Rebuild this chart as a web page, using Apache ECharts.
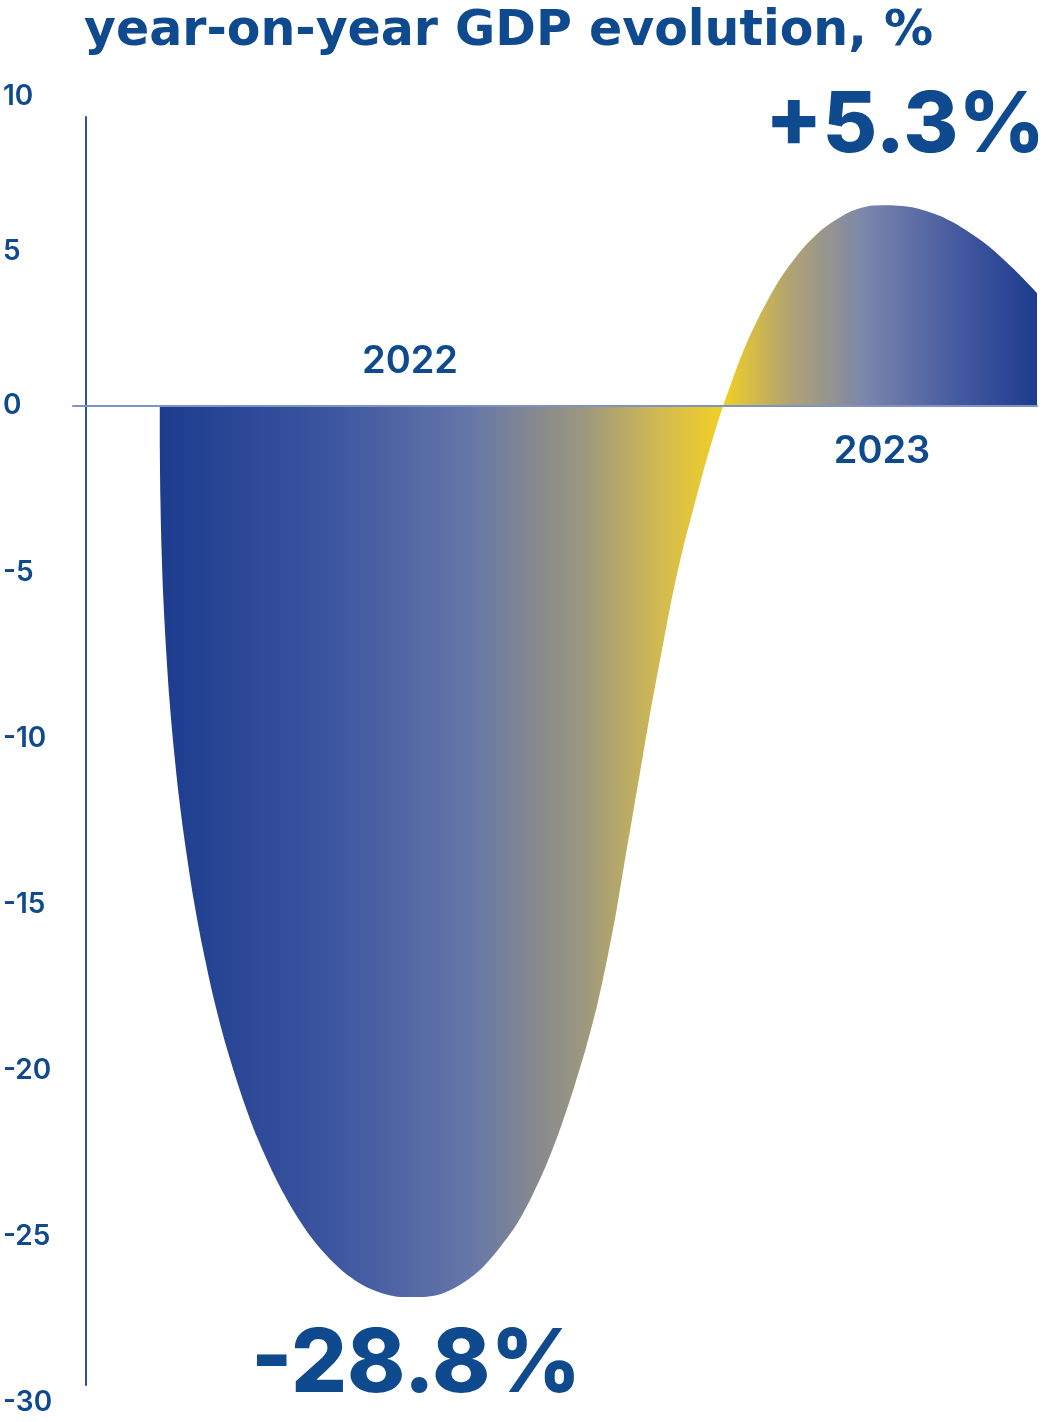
<!DOCTYPE html>
<html>
<head>
<meta charset="utf-8">
<script src="https://cdn.jsdelivr.net/npm/echarts@6/dist/echarts.min.js"></script>
<style>
  html, body { margin: 0; padding: 0; background: #ffffff; }
  #chart { width: 1047px; height: 1422px; }
</style>
</head>
<body>
<div id="chart"></div>
<script>
// ---------- data ----------
const chartTitle = 'year-on-year GDP evolution, %';
const yearLabels = ['2022', '2023'];
const headlineValues = ['-28.8%', '+5.3%'];

// y axis tick labels (two scales: above and below zero)
const upperTicks = [0, 5, 10];
const lowerTicks = [-30, -25, -20, -15, -10, -5, 0];

// 2022 trough (time position 0..100 across the plot, value in %)
const dip2022X = [9.00, 9.01, 9.07, 9.19, 9.38, 9.66, 10.01, 10.47, 11.03, 11.72, 12.53, 13.50, 14.64, 16.01, 17.65, 19.22, 21.11, 22.82, 24.55, 26.26, 27.92, 29.99, 32.06, 33.61, 35.16,
                  36.71, 38.16, 40.12, 42.09, 44.05, 46.02, 47.67, 49.22, 50.67, 52.02, 53.26, 54.40, 55.43, 56.36, 57.29, 58.22, 59.15, 60.08, 61.12, 62.15, 63.29, 64.32, 65.36, 66.39, 67.43];
const dip2022Y = [0, -1.32, -2.83, -4.33, -5.84, -7.34, -8.85, -10.35, -11.86, -13.36, -14.87, -16.37, -17.88, -19.38, -20.88, -22.09, -23.29, -24.19, -24.95, -25.55, -26.02, -26.44, -26.70, -26.80, -26.81,
                  -26.80, -26.72, -26.45, -26.03, -25.40, -24.62, -23.74, -22.75, -21.64, -20.46, -19.26, -18.00, -16.61, -15.20, -13.60, -12.04, -10.47, -8.91, -7.31, -5.75, -4.27, -3.13, -1.99, -0.96, 0];

// 2023 recovery
const rise2023X = [67.43, 68.36, 69.29, 70.22, 71.15, 72.08, 73.22, 74.35, 75.49, 76.53, 77.77, 79.11, 80.35, 81.70, 83.04, 84.49,
                   85.94, 87.38, 88.73, 89.97, 91.42, 92.76, 94.52, 96.17, 98.03, 100.00];
const rise2023Y = [0, 0.81, 1.59, 2.27, 2.88, 3.43, 4.05, 4.56, 5.02, 5.37, 5.73, 6.02, 6.25, 6.41, 6.49, 6.50,
                   6.47, 6.41, 6.29, 6.15, 5.92, 5.66, 5.28, 4.85, 4.30, 3.66];

// ---------- styles ----------
const TEXT = '#0e4a8d';
const FONT = 'Inter';
const TITLE_FONT = 'DejaVu Sans';

const zip = (xs, ys) => xs.map((x, i) => [x, ys[i]]);

const chart = echarts.init(document.getElementById('chart'), null, { renderer: 'canvas' });

const hiddenX = (gi) => ({
  type: 'value', gridIndex: gi, min: 0, max: 100, show: false
});

const option = {
  backgroundColor: '#ffffff',
  animation: false,
  title: {
    text: chartTitle,
    left: 79, top: 3,
    textStyle: { color: TEXT, fontFamily: TITLE_FONT, fontWeight: 700, fontSize: 49 }
  },
  grid: [
    { left: 70, right: 10, top: 97, bottom: 1016 },   // above zero
    { left: 70, right: 10, top: 406, bottom: 19 },    // below zero
    { left: 86, right: 10, top: 117, bottom: 37 }     // vertical axis line
  ],
  xAxis: [
    hiddenX(0),
    {
      type: 'value', gridIndex: 1, min: 0, max: 100, position: 'top', z: 5,
      axisLine: { show: true, onZero: false, lineStyle: { color: '#7f92c4', width: 2 } },
      axisTick: { show: false }, axisLabel: { show: false }, splitLine: { show: false }
    },
    hiddenX(2)
  ],
  yAxis: [
    {
      type: 'value', gridIndex: 0, min: upperTicks[0], max: upperTicks[upperTicks.length - 1], interval: 5,
      axisLine: { show: false }, axisTick: { show: false }, splitLine: { show: false },
      axisLabel: {
        showMinLabel: false, align: 'left', margin: 70,
        color: TEXT, fontFamily: FONT, fontWeight: 600, fontSize: 28
      }
    },
    {
      type: 'value', gridIndex: 1, min: lowerTicks[0], max: lowerTicks[lowerTicks.length - 1], interval: 5,
      axisLine: { show: false }, axisTick: { show: false }, splitLine: { show: false },
      axisLabel: {
        align: 'left', margin: 70,
        color: TEXT, fontFamily: FONT, fontWeight: 600, fontSize: 28
      }
    },
    {
      type: 'value', gridIndex: 2, min: 0, max: 1, z: 5,
      axisLine: { show: true, lineStyle: { color: '#2f4f9b', width: 2 } },
      axisTick: { show: false }, axisLabel: { show: false }, splitLine: { show: false }
    }
  ],
  series: [
    {
      name: '2022', type: 'line', xAxisIndex: 1, yAxisIndex: 1,
      data: zip(dip2022X, dip2022Y),
      smooth: 0.3, showSymbol: false, silent: true,
      lineStyle: { width: 0 },
      areaStyle: {
        opacity: 1,
        color: new echarts.graphic.LinearGradient(0, 0, 1, 0, [
          { offset: 0, color: '#1d3c8e' },
          { offset: 0.3, color: '#3b55a0' },
          { offset: 0.55, color: '#6576a8' },
          { offset: 0.75, color: '#9c977f' },
          { offset: 0.9, color: '#d6bd4c' },
          { offset: 1, color: '#f2cf25' }
        ])
      }
    },
    {
      name: '2023', type: 'line', xAxisIndex: 0, yAxisIndex: 0,
      data: zip(rise2023X, rise2023Y),
      smooth: 0.3, showSymbol: false, silent: true,
      lineStyle: { width: 0 },
      areaStyle: {
        opacity: 1,
        color: new echarts.graphic.LinearGradient(0, 0, 1, 0, [
          { offset: 0, color: '#f2cf25' },
          { offset: 0.2, color: '#b4a56e' },
          { offset: 0.45, color: '#7b86ab' },
          { offset: 0.75, color: '#44599f' },
          { offset: 1, color: '#1d3c8e' }
        ])
      }
    }
  ],
  graphic: [
    { type: 'text', x: 410, y: 362, style: { text: yearLabels[0], fill: TEXT, font: `600 38px ${FONT}`, textAlign: 'center', textVerticalAlign: 'middle' } },
    { type: 'text', x: 882, y: 452, style: { text: yearLabels[1], fill: TEXT, font: `600 38px ${FONT}`, textAlign: 'center', textVerticalAlign: 'middle' } },
    { type: 'text', x: 416, y: 1366, style: { text: headlineValues[0], fill: TEXT, font: `800 88px ${FONT}`, textAlign: 'center', textVerticalAlign: 'middle' } },
    { type: 'text', x: 905, y: 127, style: { text: headlineValues[1], fill: TEXT, font: `800 84px ${FONT}`, textAlign: 'center', textVerticalAlign: 'middle' } }
  ]
};

chart.setOption(option);
</script>
</body>
</html>
